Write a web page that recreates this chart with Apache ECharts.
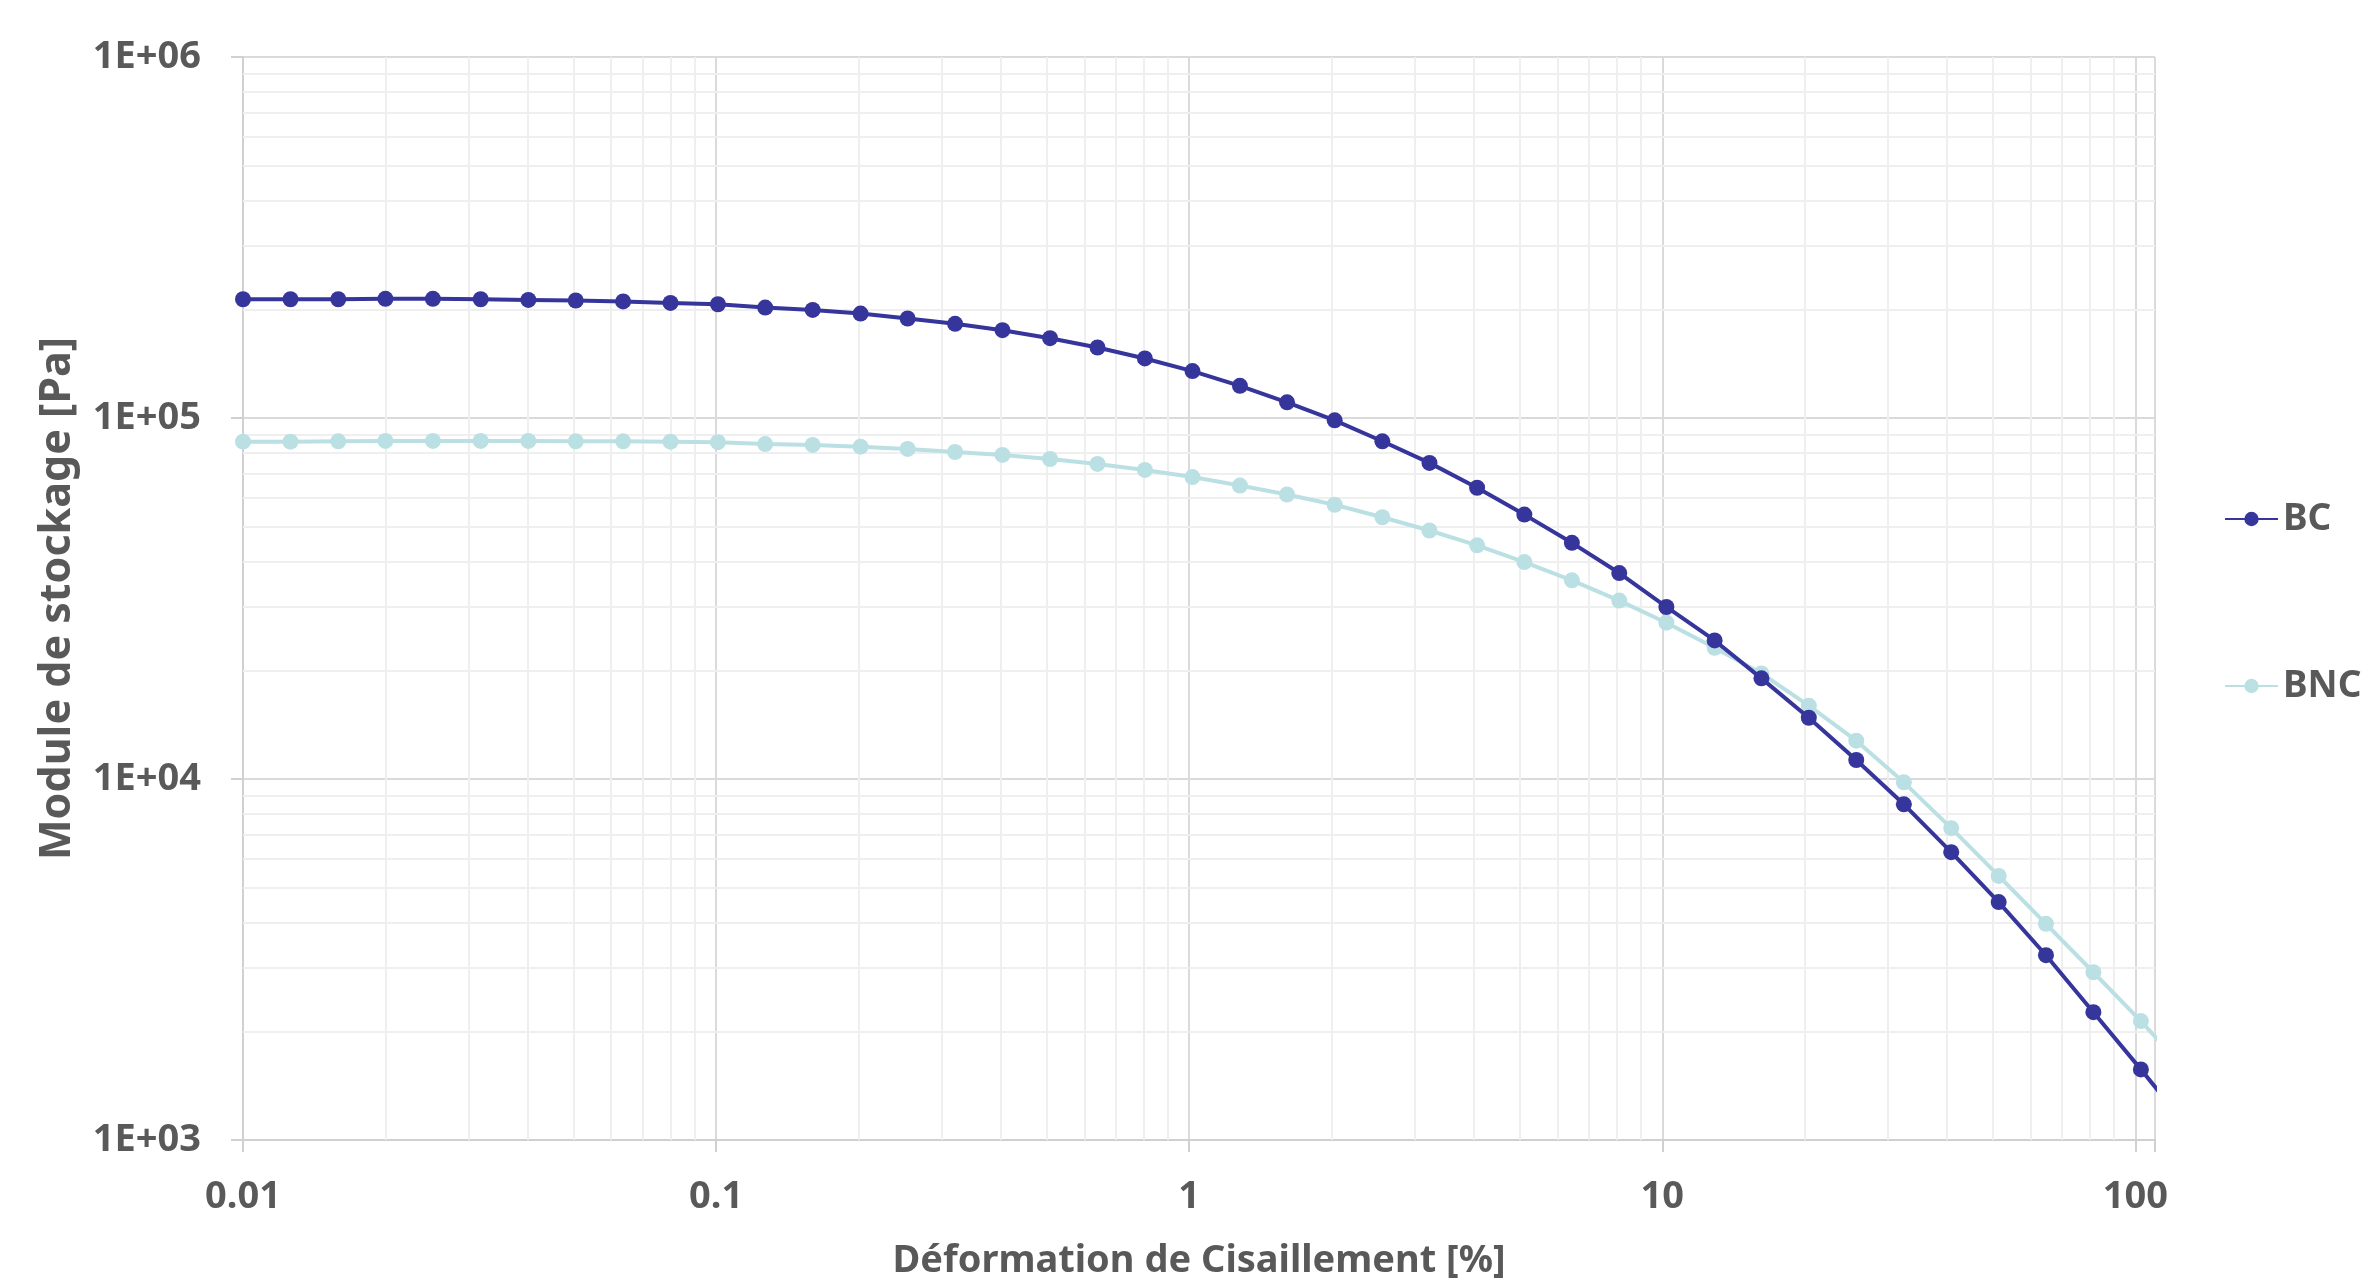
<!DOCTYPE html>
<html>
<head>
<meta charset="utf-8">
<script src="https://cdn.jsdelivr.net/npm/echarts@6/dist/echarts.min.js"></script>
<style>
  html, body { margin: 0; padding: 0; background: #fff; }
  #chart { width: 2366px; height: 1285px; }
</style>
</head>
<body>
<div id="chart"></div>
<script>
// déformation de cisaillement [%]
const strain = [
    0.0100, 0.0126, 0.0159, 0.0200, 0.0252, 0.0318, 0.0401, 0.0505, 0.0636, 0.0801,
    0.1009, 0.127, 0.160, 0.202, 0.254, 0.320, 0.403, 0.508, 0.640, 0.806,
    1.016, 1.28, 1.61, 2.03, 2.56, 3.22, 4.06, 5.11, 6.44, 8.11,
    10.2, 12.9, 16.2, 20.4, 25.7, 32.4, 40.8, 51.4, 64.7, 81.5,
    102.7, 129.4
];
// module de stockage [Pa]
const bc = [
    213300, 213300, 213300, 213800, 213800, 213300, 212400, 211600, 210300, 208400,
    206600, 202300, 199200, 194700, 188600, 182300, 175100, 166400, 156800, 146200,
    134900, 122800, 110500, 98500, 86200, 75100, 64100, 54000, 45100, 37200,
    29960, 24200, 19000, 14780, 11290, 8510, 6270, 4560, 3250, 2260,
    1569, 1080
];
const bnc = [
    86000, 86000, 86200, 86400, 86400, 86400, 86400, 86200, 86200, 86000,
    85700, 84700, 84200, 83300, 82100, 80500, 79000, 77000, 74600, 71800,
    68600, 65000, 61400, 57500, 53100, 48800, 44400, 39900, 35500, 31200,
    27100, 23100, 19600, 15960, 12770, 9790, 7310, 5390, 3970, 2915,
    2135, 1530
];
// quadrillage secondaire
const xMinor = [
    0.02, 0.03, 0.04, 0.05, 0.06, 0.07, 0.08, 0.09,
    0.2, 0.3, 0.4, 0.5, 0.6, 0.7, 0.8, 0.9,
    2, 3, 4, 5, 6, 7, 8, 9,
    20, 30, 40, 50, 60, 70, 80, 90
];
const yMinor = [
    2000, 3000, 4000, 5000, 6000, 7000, 8000, 9000,
    20000, 30000, 40000, 50000, 60000, 70000, 80000, 90000,
    200000, 300000, 400000, 500000, 600000, 700000, 800000, 900000
];

const chart = echarts.init(document.getElementById('chart'));

const FONT = 'Noto Sans';
const TXT = '#595959';

function isPow10(v) {
    const l = Math.log10(v);
    return Math.abs(l - Math.round(l)) < 1e-6;
}

const minorLines = xMinor.map(v => ({ xAxis: v })).concat(yMinor.map(v => ({ yAxis: v })));

const option = {
    animation: false,
    grid: { left: 243, right: 211, top: 57, bottom: 143 },
    legend: {
        orient: 'vertical',
        left: 2219,
        top: 493,
        itemWidth: 53,
        itemHeight: 18,
        itemGap: 125,
        textStyle: { color: TXT, fontFamily: FONT, fontWeight: 'bold', fontSize: 37, lineHeight: 42 },
        data: ['BC', 'BNC']
    },
    xAxis: {
        type: 'log',
        logBase: 10,
        min: 0.01,
        max: 110,
        name: 'Déformation de Cisaillement [%]',
        nameLocation: 'middle',
        nameGap: 102,
        nameTextStyle: { color: TXT, fontFamily: FONT, fontWeight: 'bold', fontSize: 38 },
        axisLine: { show: true, lineStyle: { color: '#d0d0d0', width: 2 } },
        axisTick: { show: true, inside: false, length: 12, lineStyle: { color: '#d0d0d0', width: 2 } },
        axisLabel: {
            margin: 38,
            color: TXT, fontFamily: FONT, fontWeight: 'bold', fontSize: 38,
            formatter: v => {
                if (!isPow10(v)) return '';
                return v >= 1 ? String(Math.round(v)) : String(Number(v.toPrecision(1)));
            }
        },
        splitLine: { show: true, lineStyle: { color: '#dadada', width: 2 } }
    },
    yAxis: {
        type: 'log',
        logBase: 10,
        min: 1000,
        max: 1000000,
        name: 'Module de stockage [Pa]',
        nameLocation: 'middle',
        nameGap: 164,
        nameTextStyle: { color: TXT, fontFamily: FONT, fontWeight: 'bold', fontSize: 43 },
        axisLine: { show: true, lineStyle: { color: '#d0d0d0', width: 2 } },
        axisTick: { show: true, inside: false, length: 12, lineStyle: { color: '#d0d0d0', width: 2 } },
        axisLabel: {
            margin: 42,
            color: TXT, fontFamily: FONT, fontWeight: 'bold', fontSize: 38,
            formatter: v => {
                const e = Math.round(Math.log10(v));
                return '1E+' + (e < 10 ? '0' + e : e);
            }
        },
        splitLine: { show: true, lineStyle: { color: '#dadada', width: 2 } }
    },
    series: [
        {
            name: 'grille',
            type: 'line',
            data: [],
            z: 1,
            silent: true,
            markLine: {
                z: 1,
                silent: true,
                symbol: 'none',
                label: { show: false },
                lineStyle: { color: '#efefef', width: 2, type: 'solid' },
                emphasis: { disabled: true },
                data: minorLines
            }
        },
        {
            name: 'BC',
            type: 'line',
            z: 4,
            data: strain.map((x, i) => [x, bc[i]]),
            symbol: 'circle',
            symbolSize: 16,
            itemStyle: { color: '#35359b' },
            lineStyle: { color: '#35359b', width: 4 }
        },
        {
            name: 'BNC',
            type: 'line',
            z: 3,
            data: strain.map((x, i) => [x, bnc[i]]),
            symbol: 'circle',
            symbolSize: 16,
            itemStyle: { color: '#bbe0e3' },
            lineStyle: { color: '#bbe0e3', width: 4 }
        }
    ]
};

chart.setOption(option);
window.addEventListener('resize', function () {
    chart.resize();
});
</script>
</body>
</html>
